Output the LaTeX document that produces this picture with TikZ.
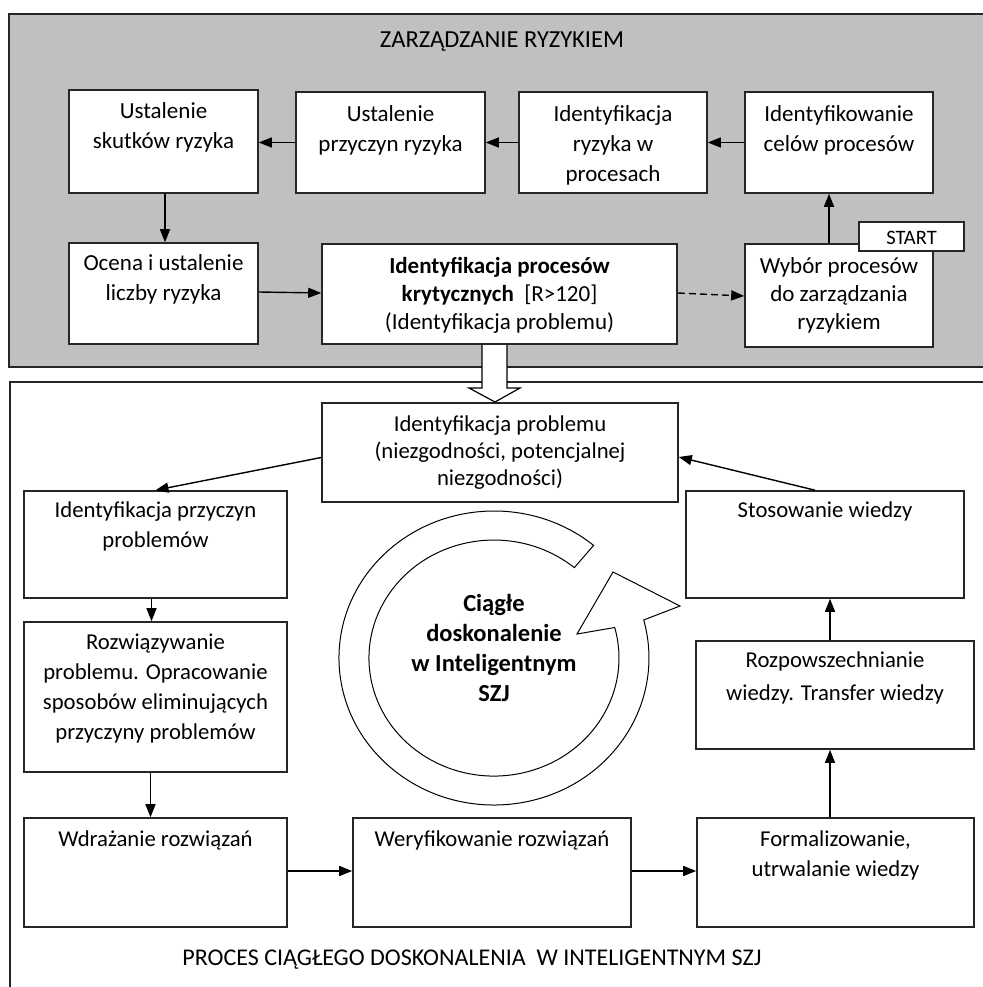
\documentclass[tikz,border=0pt]{standalone}
\usepackage{fontspec}
\setmainfont{Carlito}
\usetikzlibrary{arrows.meta}
\definecolor{bggray}{RGB}{192,192,192}
\tikzset{
  box/.style={draw=black!85, fill=white, line width=1.6pt, inner sep=0pt},
  toptxt/.style={align=center, inner sep=0pt, anchor=north, font=\fontsize{23}{30}\selectfont},
  lowtxt/.style={align=center, inner sep=0pt, anchor=north, font=\fontsize{22.7}{30}\selectfont},
  arr/.style={line width=1.4pt, -{Triangle[length=13pt,width=10pt]}},
  frameline/.style={draw=black!85, line width=1.6pt},
}
\begin{document}
\begin{tikzpicture}[x=1pt,y=-1pt]
\useasboundingbox (0,0) rectangle (982,987);
% frames
\fill[white] (0,0) rectangle (982,987);
\path[frameline, fill=bggray] (9,14) rectangle (986,367);
\draw[frameline] (986,382) -- (10,382) -- (10,992);
\node[inner sep=0pt, anchor=base, font=\fontsize{24.5}{28}\selectfont] (title) at (502,48) {ZARZĄDZANIE RYZYKIEM};
% top section boxes
\node[box, minimum width=189pt, minimum height=103pt] (A) at (163.5,141.5) {};
\node[box, minimum width=189pt, minimum height=101pt] (B) at (390.5,142.5) {};
\node[box, minimum width=188pt, minimum height=101pt] (C) at (613,142.5) {};
\node[box, minimum width=188pt, minimum height=101pt] (D) at (839,142.5) {};
\node[box, minimum width=189pt, minimum height=101pt] (E) at (163.5,293.5) {};
\node[box, minimum width=355pt, minimum height=100pt] (F) at (499.5,294) {};
\node[box, minimum width=188pt, minimum height=103pt] (G) at (839,295.5) {};
\node[box, minimum width=105pt, minimum height=29pt] (S0) at (911.5,236.5) {};
\node[inner sep=0pt, anchor=base, font=\fontsize{20.5}{22}\selectfont] (S0t) at (911.5,244.5) {START};
\node[toptxt] (At) at (163.5,102) {Ustalenie\\skutków ryzyka};
\node[toptxt] (Bt) at (390.5,105) {Ustalenie\\przyczyn ryzyka};
\node[toptxt] (Ct) at (613,105) {Identyfikacja\\ryzyka w\\procesach};
\node[toptxt] (Dt) at (839,105) {Identyfikowanie\\celów procesów};
\node[toptxt] (Et) at (163.5,254) {Ocena i ustalenie\\liczby ryzyka};
\node[toptxt, font=\fontsize{23}{28}\selectfont] (Ft) at (499.5,257) {\textbf{Identyfikacja procesów}\\\textbf{krytycznych}\ \ [R>120]\\(Identyfikacja problemu)};
\node[toptxt, font=\fontsize{23}{28}\selectfont] (Gt) at (839,257) {Wybór procesów\\do zarządzania\\ryzykiem};
% top arrows
\draw[arr] (D.west) -- (C.east);
\draw[arr] (C.west) -- (B.east);
\draw[arr] (B.west) -- (B.west -| A.east);
\draw[arr] ([xshift=1.5pt]A.south) -- ([xshift=1.5pt]E.north);
\draw[arr] ([yshift=1.5pt]E.east) -- ([yshift=1pt]F.west);
\draw[arr, dash pattern=on 7pt off 4pt] ([yshift=1pt]F.east) -- ([yshift=-0.5pt]G.west);
\draw[arr] ([xshift=-10pt]G.north) -- ([xshift=-10pt]D.south);
% hollow arrow
\fill[white] (482,345) -- (482,388) -- (469,388) -- (495,402) -- (520,388) -- (507,388) -- (507,345) -- cycle;
\draw[line width=1.2pt, line join=miter] (482,345) -- (482,388) -- (469,388) -- (495,402) -- (520,388) -- (507,388) -- (507,345);
% lower section boxes
\node[box, minimum width=356pt, minimum height=99pt] (H) at (500,452.5) {};
\node[box, minimum width=263pt, minimum height=107pt] (I) at (155.5,544.5) {};
\node[box, minimum width=263pt, minimum height=150pt] (J) at (155.5,697) {};
\node[box, minimum width=263pt, minimum height=109pt] (K) at (155.5,872.5) {};
\node[box, minimum width=278pt, minimum height=109pt] (L) at (492,872.5) {};
\node[box, minimum width=277pt, minimum height=109pt] (M) at (835.5,872.5) {};
\node[box, minimum width=278pt, minimum height=108pt] (N) at (835,695) {};
\node[box, minimum width=278pt, minimum height=107pt] (S) at (825,544.5) {};
\node[lowtxt, font=\fontsize{22.7}{27}\selectfont] (Ht) at (500,416) {Identyfikacja problemu\\(niezgodności, potencjalnej\\niezgodności)};
\node[lowtxt] (It) at (155.5,502) {Identyfikacja przyczyn\\problemów};
\node[lowtxt] (Jt) at (155.5,634) {Rozwiązywanie\\problemu. Opracowanie\\sposobów eliminujących\\przyczyny problemów};
\node[lowtxt] (Kt) at (155.5,831) {Wdrażanie rozwiązań};
\node[lowtxt] (Lt) at (492,831) {Weryfikowanie rozwiązań};
\node[lowtxt] (Mt) at (835.5,831) {Formalizowanie,\\utrwalanie wiedzy};
\node[lowtxt, font=\fontsize{22.7}{33}\selectfont] (Nt) at (835,652) {Rozpowszechnianie\\wiedzy. Transfer wiedzy};
\node[lowtxt] (St) at (825,502) {Stosowanie wiedzy};
% lower arrows
\draw[arr] ([yshift=-5pt]H.west) -- (I.north);
\draw[arr] ([xshift=-10pt]S.north) -- ([yshift=-4.5pt]H.east);
\draw[arr] ([xshift=-4pt]I.south) -- ([xshift=-4pt]J.north);
\draw[arr] ([xshift=-5pt]J.south) -- ([xshift=-5pt]K.north);
\draw[arr] ([yshift=1.5pt]K.east) -- ([yshift=1.5pt]L.west);
\draw[arr] ([yshift=1.5pt]L.east) -- ([yshift=1.5pt]M.west);
\draw[arr] ([xshift=-5.5pt]M.north) -- ([xshift=-5pt]N.south);
\draw[arr] ([xshift=-5pt]N.north) -- ([xshift=5pt]S.south);
% cycle ring arrow
\draw[line width=1pt, fill=white, line join=miter]
  (593.6,545.4) arc[start angle=-50, end angle=-375, x radius=155, y radius=147]
  -- (680,606) -- (613,572) -- (577,634)
  -- (614.7,627.5) arc[start angle=-375, end angle=-50, x radius=125, y radius=118] -- cycle;
\node[align=center, inner sep=0pt, anchor=north, font=\fontsize{24.5}{30}\bfseries\selectfont] (circ) at (494,594.5) {Ciągłe\\doskonalenie\\w Inteligentnym\\SZJ};
\node[inner sep=0pt, anchor=base, font=\fontsize{24}{28}\selectfont] (bottomtitle) at (472,965) {PROCES CIĄGŁEGO DOSKONALENIA\ \ W INTELIGENTNYM SZJ};
\end{tikzpicture}
\end{document}
